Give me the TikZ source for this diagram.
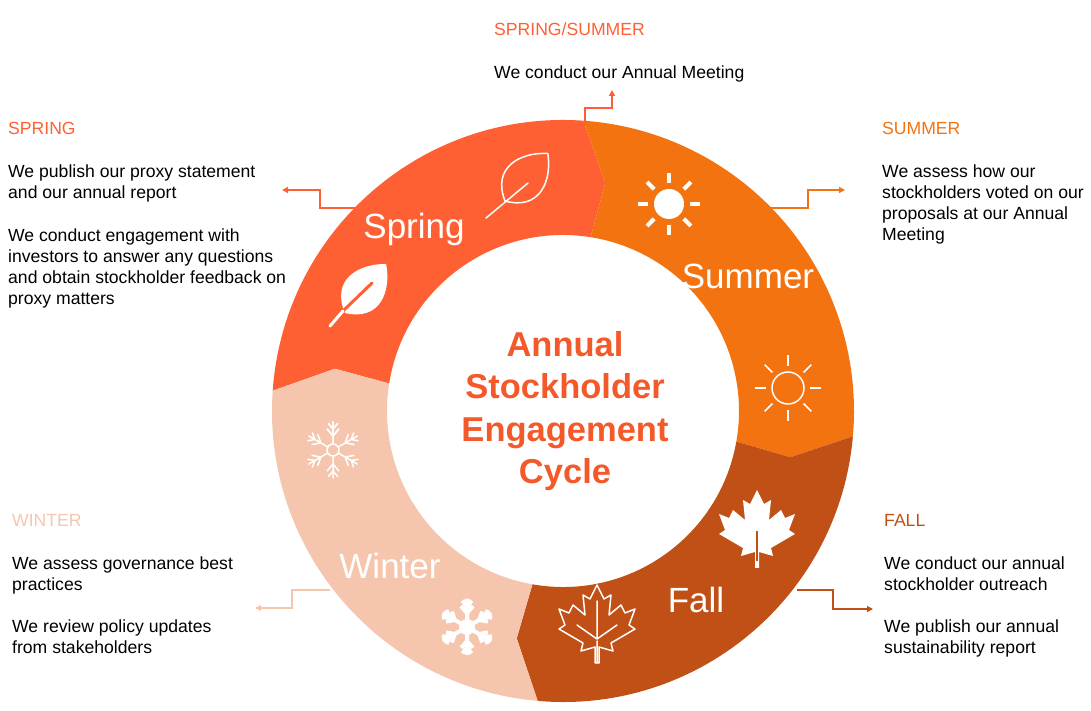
\documentclass[tikz,border=0pt]{standalone}
\usepackage{fontspec}
\setmainfont{Liberation Sans}
\usetikzlibrary{arrows.meta}
\definecolor{cspr}{HTML}{FF6033}
\definecolor{csum}{HTML}{F47311}
\definecolor{cfal}{HTML}{C05016}
\definecolor{cwin}{HTML}{F5C6AD}
\definecolor{ctit}{HTML}{F4592A}
\tikzset{
  body/.style={anchor=base west,align=left,font=\fontsize{17.6}{21}\selectfont,inner sep=0pt},
  head/.style={anchor=base west,font=\fontsize{17.6}{21}\selectfont,inner sep=0pt},
  season/.style={text=white,font=\fontsize{35}{35}\selectfont},
  conn/.style={line width=1.4pt,-{Triangle[length=6pt,width=6pt]}},
  ico/.style={white,line width=1.5pt,line cap=round,line join=round},
  leaf/.pic={\path[pic actions] (0,0) .. controls (-32,16) and (-22,46) .. (0,64) .. controls (22,46) and (32,16) .. (0,0) -- cycle;},
  maple/.pic={\path[pic actions] (0,40) -- (7,26) -- (14,30) -- (12,10) -- (24,20) -- (28,12) -- (38,16) -- (32,0) -- (38,-4) -- (14,-18) -- (16,-26) -- (2,-22) -- (2,-38) -- (-2,-38) -- (-2,-22) -- (-16,-26) -- (-14,-18) -- (-38,-4) -- (-32,0) -- (-38,16) -- (-28,12) -- (-24,20) -- (-12,10) -- (-14,30) -- (-7,26) -- cycle;},
  flake/.pic={\foreach \a in {90,150,...,450}{\draw[pic actions] (\a:6) -- (\a:28) (\a:14) -- ++(\a+40:9) (\a:14) -- ++(\a-40:9) (\a:21) -- ++(\a+40:7) (\a:21) -- ++(\a-40:7);}},
}
\begin{document}
\begin{tikzpicture}[x=1pt,y=1pt]
\useasboundingbox (0,0) rectangle (1091,711);
% ring
\begin{scope}[shift={(563,300)}]
\foreach \A/\B/\c in {176/86/cspr,86/-5/csum,-5/-95/cfal,265/176/cwin}{
  \fill[\c] (\A:291) arc[start angle=\A,end angle=\B,radius=291pt] -- ({\B-6.5}:232) -- ({\B-5}:176)
    arc[start angle={\B-5},end angle={\A-5},radius=176pt] -- ({\A-6.5}:232) -- cycle;
}
\end{scope}
% icons: spring
\pic[ico,draw,rotate=-42] at (505,510) {leaf};
\draw[ico] (486,493) -- (528,528);
\pic[fill=white,rotate=-40] at (345,398) {leaf};
\draw[cspr,line width=3pt,line cap=round] (343,400) -- (372,428);
\draw[white,line width=3pt,line cap=round] (343,400) -- (330,385);
% summer
\fill[white] (669,507) circle (15);
\foreach \a in {0,45,...,315}\draw[white,line width=4pt] (669,507) ++(\a:21) -- ++(\a:10);
\draw[ico] (788,323) circle (16);
\foreach \a in {0,45,...,315}\draw[ico,line cap=butt] (788,323) ++(\a:22) -- ++(\a:11);
% fall
\pic[fill=white] at (757,181) {maple};
\draw[cfal,line width=1.5pt] (757,180) -- (757,150);
\pic[ico,draw] at (597,86) {maple};
\draw[ico] (597,48) -- (597,70) (597,72) -- (577,86) (597,72) -- (617,86) (597,72) -- (597,110);
% winter
\pic[ico] at (333,261) {flake};
\draw[ico] (333,261) circle (6);
\pic[white,line width=4pt] at (467,84) {flake};
\fill[white] (467,84) circle (8);
% labels
\node[season] (lspr) at (414,482) {Spring};
\node[season] (lsum) at (748,435) {Summer};
\node[season] (lfal) at (696,111) {Fall};
\node[season] (lwin) at (390,145) {Winter};
\node[text=ctit,font=\bfseries\fontsize{34.5}{42.5}\selectfont,align=center] (title) at (565,300) {Annual\\Stockholder\\Engagement\\Cycle};
% connectors
\coordinate (s0) at (357,503); \coordinate (s1) at (282,521);
\draw[conn,cspr] (s0) -| (320,521) -- (s1);
\coordinate (ss0) at (585,586); \coordinate (ss1) at (612,621);
\draw[conn,cspr] (ss0) |- (612,603) -- (ss1);
\coordinate (su0) at (770,503); \coordinate (su1) at (845,521);
\draw[conn,csum] (su0) -| (808,521) -- (su1);
\coordinate (f0) at (797,121); \coordinate (f1) at (873,102);
\draw[conn,cfal] (f0) -| (833,102) -- (f1);
\coordinate (w0) at (330,121); \coordinate (w1) at (255,103);
\draw[conn,cwin] (w0) -| (292,103) -- (w1);
% texts (base = last line)
\node[head,text=cspr] (hspr) at (8,576) {SPRING};
\node[body] (tspr1) at (8,512) {We publish our proxy statement\\and our annual report};
\node[body] (tspr2) at (8,406) {We conduct engagement with\\investors to answer any questions\\and obtain stockholder feedback on\\proxy matters};
\node[head,text=cspr] (hss) at (494,675) {SPRING/SUMMER};
\node[body] (tss) at (494,632) {We conduct our Annual Meeting};
\node[head,text=csum] (hsum) at (882,576) {SUMMER};
\node[body] (tsum) at (882,470) {We assess how our\\stockholders voted on our\\proposals at our Annual\\Meeting};
\node[head,text=cwin] (hwin) at (12,184) {WINTER};
\node[body] (twin1) at (12,120) {We assess governance best\\practices};
\node[body] (twin2) at (12,57) {We review policy updates\\from stakeholders};
\node[head,text=cfal] (hfal) at (884,184) {FALL};
\node[body] (tfal1) at (884,120) {We conduct our annual\\stockholder outreach};
\node[body] (tfal2) at (884,57) {We publish our annual\\sustainability report};
\end{tikzpicture}
\end{document}
